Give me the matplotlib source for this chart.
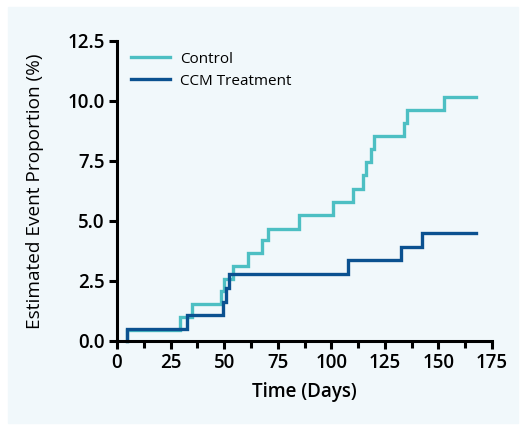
import matplotlib.pyplot as plt
from matplotlib.patches import Rectangle
from matplotlib.ticker import MultipleLocator

# event times (days) and estimated event proportion (%) after each event
control_days = [4.6, 29.3, 35.2, 48.6, 49.8, 54.3, 60.9, 67.5, 70.3, 85.1,
                100.7, 109.9, 114.9, 116.1, 118.7, 119.8, 133.8, 135.4, 152.6]
control_pct = [0.45, 1.01, 1.55, 2.09, 2.60, 3.11, 3.66, 4.19, 4.67, 5.23,
               5.80, 6.35, 6.91, 7.46, 7.98, 8.54, 9.09, 9.61, 10.17]
ccm_days = [4.6, 32.8, 49.3, 50.9, 52.4, 107.6, 132.3, 142.3]
ccm_pct = [0.52, 1.09, 1.63, 2.21, 2.78, 3.36, 3.91, 4.49]
end_day = 167.3

control_color = "#4dbfc3"
ccm_color = "#0b5190"
bg = "#f1f8fb"

plt.rcParams['font.family'] = ['Open Sans', 'DejaVu Sans']

fig = plt.figure(figsize=(5.26, 4.25), dpi=100)
fig.patches.append(Rectangle((8 / 526, 0.005), 510 / 526, 416 / 425,
                             transform=fig.transFigure, color=bg, zorder=-1))
ax = fig.add_axes([117 / 526, 84 / 425, 375 / 526, 300 / 425])
ax.patch.set_alpha(0)


def km(days, pct):
    # build a step curve starting from zero at the first event
    x = [days[0]] + list(days) + [end_day]
    y = [0] + list(pct) + [pct[-1]]
    return x, y


x, y = km(control_days, control_pct)
ax.step(x, y, where='post', color=control_color, lw=2.4, label="Control",
        clip_on=False, solid_joinstyle='miter')
x, y = km(ccm_days, ccm_pct)
ax.step(x, y, where='post', color=ccm_color, lw=2.4, label="CCM Treatment",
        clip_on=False, solid_joinstyle='miter')

ax.set_xlim(0, 175)
ax.set_ylim(0, 12.5)
ax.xaxis.set_major_locator(MultipleLocator(25))
ax.xaxis.set_minor_locator(MultipleLocator(12.5))
ax.yaxis.set_major_locator(MultipleLocator(2.5))
ax.yaxis.set_major_formatter(plt.FormatStrFormatter('%.1f'))

for s in ['top', 'right']:
    ax.spines[s].set_visible(False)
for s in ['left', 'bottom']:
    ax.spines[s].set_linewidth(2.2)
ax.tick_params(which='both', direction='out', width=2.2, color='black')
ax.tick_params(which='major', length=6, labelsize=13.5, pad=3)
ax.tick_params(which='minor', length=5)
for lab in ax.get_xticklabels() + ax.get_yticklabels():
    lab.set_fontweight('semibold')

ax.set_xlabel("Time (Days)", fontsize=13.5, fontweight='semibold', labelpad=6)
ax.set_ylabel("Estimated Event Proportion (%)", fontsize=13.7, labelpad=17)

ax.legend(loc='upper left', bbox_to_anchor=(0.0, 1.01), frameon=False,
          fontsize=11, handlelength=2.6, handletextpad=0.6, labelspacing=0.45)

fig.savefig("out.png", dpi=100)
